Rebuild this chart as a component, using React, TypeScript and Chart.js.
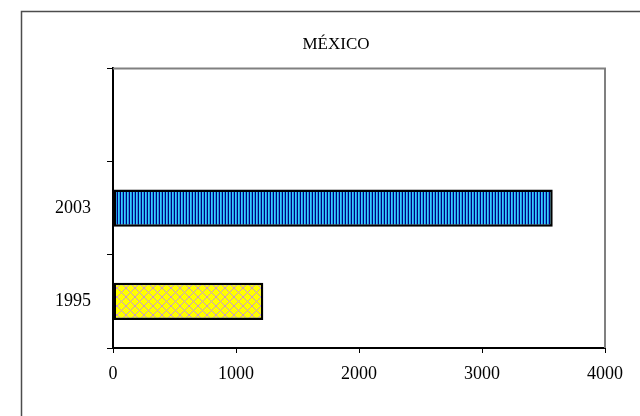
import React, { useEffect, useRef } from "react";
import { Chart, registerables } from "chart.js";

Chart.register(...registerables);

const titleText = "MÉXICO";
const categories = ["", "2003", "1995"];
const values: (number | null)[] = [null, 3575, 1222];
const xMin = 0;
const xMax = 4000;
const xStep = 1000;

const FRAME_LEFT = 21;
const FRAME_RIGHT = 651;

function makeStripePattern(ctx: CanvasRenderingContext2D): CanvasPattern | string {
  const c = document.createElement("canvas");
  c.width = 3;
  c.height = 3;
  const g = c.getContext("2d");
  if (!g) return "#1f6fc0";
  g.fillStyle = "#000080";
  g.fillRect(0, 0, 1, 3);
  g.fillStyle = "#33ccff";
  g.fillRect(1, 0, 1, 3);
  g.fillStyle = "#2596dc";
  g.fillRect(2, 0, 1, 3);
  return ctx.createPattern(c, "repeat") || "#1f6fc0";
}

function makeLatticePattern(ctx: CanvasRenderingContext2D): CanvasPattern | string {
  const n = 9;
  const c = document.createElement("canvas");
  c.width = n;
  c.height = n;
  const g = c.getContext("2d");
  if (!g) return "#ffff00";
  g.fillStyle = "#ffff00";
  g.fillRect(0, 0, n, n);
  g.fillStyle = "#c99bc9";
  for (let i = 0; i < n; i++) {
    g.fillRect(i, i, 1, 1);
    g.fillRect(n - 1 - i, i, 1, 1);
  }
  return ctx.createPattern(c, "repeat") || "#ffff00";
}

const framePlugin = {
  id: "frameAndPlotBorder",
  afterLayout(chart: any) {
    const tb = chart.titleBlock;
    if (tb) {
      tb.left = FRAME_LEFT;
      tb.right = FRAME_RIGHT;
      tb.width = FRAME_RIGHT - FRAME_LEFT;
    }
  },
  beforeDraw(chart: any) {
    const ctx = chart.ctx;
    ctx.save();
    ctx.strokeStyle = "#4d4d4d";
    ctx.lineWidth = 1.5;
    ctx.strokeRect(FRAME_LEFT + 0.5, 11.5, chart.width + 20, chart.height + 20);
    ctx.restore();
  },
  beforeDatasetsDraw(chart: any) {
    const { ctx, chartArea } = chart;
    ctx.save();
    ctx.strokeStyle = "#808080";
    ctx.lineWidth = 2;
    ctx.beginPath();
    ctx.moveTo(chartArea.left, chartArea.top);
    ctx.lineTo(chartArea.right, chartArea.top);
    ctx.lineTo(chartArea.right, chartArea.bottom);
    ctx.stroke();
    ctx.restore();
  },
};

export default function App() {
  const ref = useRef<HTMLCanvasElement | null>(null);

  useEffect(() => {
    const canvas = ref.current;
    if (!canvas) return;
    const ctx = canvas.getContext("2d");
    if (!ctx) return;
    const stripe = makeStripePattern(ctx);
    const lattice = makeLatticePattern(ctx);
    const fills = [stripe, stripe, lattice];
    const family = "'Liberation Serif', 'Times New Roman', serif";
    const tickFont = { family, size: 18 };

    const chart = new Chart(ctx, {
      type: "bar",
      data: {
        labels: categories,
        datasets: [
          {
            data: values as any,
            backgroundColor: fills as any,
            borderColor: "#000000",
            borderWidth: 2.5,
            borderSkipped: false,
            categoryPercentage: 1,
            barPercentage: 0.4,
          },
        ],
      },
      plugins: [framePlugin],
      options: {
        indexAxis: "y",
        animation: false,
        responsive: false,
        events: [],
        layout: { padding: { left: 32, right: 35, top: 0, bottom: 0 } },
        plugins: {
          legend: { display: false },
          tooltip: { enabled: false },
          title: {
            display: true,
            text: titleText,
            color: "#000000",
            font: { family, size: 17, weight: "normal" as any },
            padding: { top: 34, bottom: 14 },
          },
        },
        scales: {
          x: {
            type: "linear",
            position: "bottom",
            min: xMin,
            max: xMax,
            ticks: {
              stepSize: xStep,
              color: "#000000",
              font: tickFont,
              padding: 10,
              callback: (v: any) => String(v),
            },
            grid: {
              drawOnChartArea: false,
              drawTicks: true,
              tickLength: 5,
              tickColor: "#000000",
              tickWidth: 1,
            },
            border: { color: "#000000", width: 2 },
            afterFit(scale: any) {
              scale.height = 68;
            },
          },
          y: {
            type: "category",
            position: "left",
            ticks: {
              color: "#000000",
              font: tickFont,
              padding: 16,
            },
            grid: {
              offset: true,
              drawOnChartArea: false,
              drawTicks: true,
              tickLength: 6,
              tickColor: "#000000",
              tickWidth: 1,
            },
            border: { color: "#000000", width: 2 },
            afterFit(scale: any) {
              scale.width = 81;
            },
          },
        },
      },
    });

    return () => {
      chart.destroy();
    };
  }, []);

  return (
    <div
      style={{
        position: "fixed",
        left: 0,
        top: 0,
        width: 640,
        height: 416,
        background: "#ffffff",
        overflow: "hidden",
      }}
    >
      <canvas ref={ref} width={640} height={416} style={{ display: "block" }} />
    </div>
  );
}
